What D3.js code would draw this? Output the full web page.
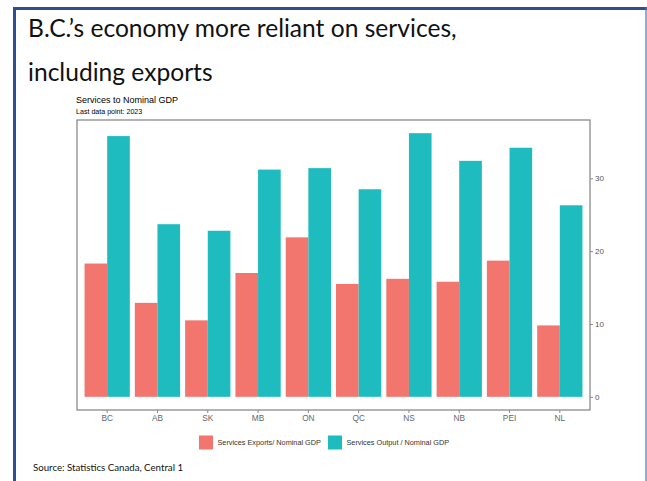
<!DOCTYPE html>
<html>
<head>
<meta charset="utf-8">
<script src="https://cdn.jsdelivr.net/npm/d3@7"></script>
<style>
  html, body { margin: 0; padding: 0; background: #fff; }
  svg { display: block; }
</style>
</head>
<body>
<script>
// Provinces and the two services ratios (% of nominal GDP), 2023
const provinces = ["BC", "AB", "SK", "MB", "ON", "QC", "NS", "NB", "PEI", "NL"];
const exportsShare = [18.3, 12.9, 10.5, 17.0, 21.9, 15.5, 16.2, 15.8, 18.7, 9.8];
const outputShare = [35.8, 23.7, 22.8, 31.2, 31.4, 28.5, 36.2, 32.4, 34.2, 26.3];
const seriesNames = ["Services Exports/ Nominal GDP", "Services Output / Nominal GDP"];
const seriesColors = ["#F3766E", "#1EBBBF"];
const yTicks = [0, 10, 20, 30];

const W = 647, H = 481;
const svg = d3.select("body").append("svg").attr("width", W).attr("height", H);

// slide frame
svg.append("line").attr("x1", 14.5).attr("x2", 14.5).attr("y1", 7).attr("y2", H)
  .attr("stroke", "#2F4F8F").attr("stroke-width", 3);
svg.append("line").attr("x1", 13).attr("x2", W).attr("y1", 8.5).attr("y2", 8.5)
  .attr("stroke", "#2F4F8F").attr("stroke-width", 3);
svg.append("line").attr("x1", 646).attr("x2", 646).attr("y1", 7).attr("y2", H)
  .attr("stroke", "#4A72B8").attr("stroke-width", 1.2);

// slide title
const titleFont = "Lato, 'Open Sans', sans-serif";
svg.append("text").attr("x", 28).attr("y", 37)
  .style("font-family", titleFont).style("font-size", "24.6px")
  .attr("fill", "#111")
  .text("B.C.’s economy more reliant on services,");
svg.append("text").attr("x", 28).attr("y", 81)
  .style("font-family", titleFont).style("font-size", "24.6px")
  .attr("fill", "#111")
  .text("including exports");

// chart heading
const chartFont = "'Liberation Sans', Arial, sans-serif";
svg.append("text").attr("x", 76).attr("y", 103)
  .style("font-family", chartFont).style("font-size", "9px").attr("fill", "#000")
  .text("Services to Nominal GDP");
svg.append("text").attr("x", 76).attr("y", 114)
  .style("font-family", chartFont).style("font-size", "7.1px").attr("fill", "#000")
  .text("Last data point: 2023");

// panel
const panel = { left: 77, right: 590, top: 120, bottom: 410 };

// discrete x scale, 0.6 band expansion on each side
const x0 = d3.scaleBand().domain(provinces)
  .range([panel.left, panel.right]).paddingInner(0.1).paddingOuter(0.15);
const x1 = d3.scaleBand().domain([0, 1]).range([0, x0.bandwidth()]);

const yMax = d3.max(outputShare);
const yExp = yMax * 0.05;
const y = d3.scaleLinear().domain([-yExp, yMax + yExp]).range([panel.bottom, panel.top]);

const g = svg.append("g");
const groups = g.selectAll("g.prov").data(provinces).join("g")
  .attr("class", "prov")
  .attr("transform", d => `translate(${x0(d)},0)`);

groups.selectAll("rect").data((d, i) => [exportsShare[i], outputShare[i]]).join("rect")
  .attr("x", (d, j) => x1(j))
  .attr("width", x1.bandwidth())
  .attr("y", d => y(d))
  .attr("height", d => y(0) - y(d))
  .attr("fill", (d, j) => seriesColors[j]);

// panel border
svg.append("rect")
  .attr("x", panel.left).attr("y", panel.top)
  .attr("width", panel.right - panel.left).attr("height", panel.bottom - panel.top)
  .attr("fill", "none").attr("stroke", "#808080").attr("stroke-width", 1.2);

// right-hand y axis
const yAxis = svg.append("g").attr("transform", `translate(${panel.right},0)`)
  .call(d3.axisRight(y).tickValues(yTicks).tickSize(3).tickPadding(2).tickFormat(d3.format("d")));
yAxis.select(".domain").remove();
yAxis.selectAll(".tick line").attr("stroke", "#888");
yAxis.selectAll(".tick text").attr("fill", "#555")
  .style("font-family", chartFont).style("font-size", "8px");

// bottom x axis
const xAxis = svg.append("g").attr("transform", `translate(0,${panel.bottom})`)
  .call(d3.axisBottom(x0).tickSize(3).tickPadding(2.5));
xAxis.select(".domain").remove();
xAxis.selectAll(".tick line").attr("stroke", "#888");
xAxis.selectAll(".tick text").attr("fill", "#666")
  .style("font-family", chartFont).style("font-size", "8.3px");

// legend
const legend = svg.append("g");
const legendItems = [
  { name: seriesNames[0], color: seriesColors[0], x: 199 },
  { name: seriesNames[1], color: seriesColors[1], x: 328 }
];
legendItems.forEach(it => {
  legend.append("rect").attr("x", it.x).attr("y", 435.5).attr("width", 14).attr("height", 14)
    .attr("fill", it.color);
  legend.append("text").attr("x", it.x + 18.5).attr("y", 445.3)
    .style("font-family", chartFont).style("font-size", "7.3px").attr("fill", "#333")
    .text(it.name);
});

// source line
svg.append("text").attr("x", 33).attr("y", 470.5)
  .style("font-family", titleFont).style("font-size", "9.7px").attr("fill", "#111")
  .text("Source: Statistics Canada, Central 1");
</script>
</body>
</html>
